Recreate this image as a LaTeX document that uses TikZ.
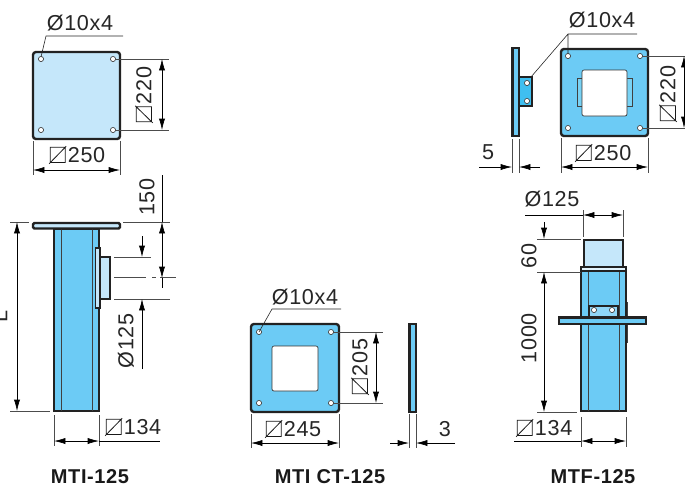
\documentclass[tikz,border=0pt]{standalone}
\usepackage{fontspec}
\setmainfont{Liberation Sans}[LetterSpace=3]
\usetikzlibrary{arrows.meta}
\definecolor{darkblue}{HTML}{6CCBF5}
\definecolor{lightblue}{HTML}{C5E7FA}
\definecolor{brightblue}{HTML}{3FBFF0}
\definecolor{outline}{HTML}{222222}
\newcommand{\sqd}{\tikz[baseline=0pt,x=1em,y=1em]{\draw[line width=.6pt,draw=black!90] (0.02,0) rectangle (0.72,0.7) (-0.03,-0.06) -- (0.76,0.75);}\kern1pt}
\tikzset{
  plate/.style={draw=outline, line width=1.8pt, rounded corners=2.2pt},
  part/.style={draw=outline, line width=1.8pt},
  cut/.style={draw=black!80, line width=0.5pt, fill=white, rounded corners=1.5pt},
  hole/.style={draw=black!75, line width=0.5pt, fill=white},
  inner/.style={draw=black!75, line width=0.6pt},
  dim/.style={draw=black, line width=0.5pt, {Latex[length=8.5pt,width=4.6pt]}-{Latex[length=8.5pt,width=4.6pt]}},
  dimend/.style={draw=black, line width=0.5pt, -{Latex[length=8.5pt,width=4.6pt]}},
  ext/.style={draw=black!70, line width=0.45pt},
  lead/.style={draw=black!85, line width=0.45pt},
  lbl/.style={font=\fontsize{16.2pt}{16.2pt}\selectfont, inner sep=0pt, text=black!85},
  vlbl/.style={lbl, rotate=90},
  title/.style={font=\fontsize{15pt}{15pt}\selectfont\bfseries, inner sep=0pt, text=black!90}
}
\begin{document}
\begin{tikzpicture}[x=0.75pt,y=-0.75pt]
    \useasboundingbox (0,0) rectangle (685,487);

    % MTI-125 top plate
    \draw[plate, fill=lightblue] (33,52) rectangle (120,139);
    \foreach \hx/\hy in {41/59, 113/59, 41/130, 113/130}
        \draw[hole] (\hx,\hy) circle (2.6);
    \draw[lead] (41,57) -- (46,36) -- (123,36);
    \node[lbl] (holesa) at (80,23) {Ø10x4};
    \draw[ext] (115,59) -- (169,59) (115,130) -- (169,130);
    \draw[dim] (162,59) -- (162,130);
    \node[vlbl] (platea) at (144,95) {\sqd 220};
    \draw[ext] (33,141) -- (33,175) (120,141) -- (120,175);
    \draw[dim] (33,170) -- (120,170);
    \node[lbl] (sidea) at (77,155) {\sqd 250};

    % MTI-125 tube
    \draw[part, fill=darkblue] (54,229) rectangle (99,411);
    \draw[inner] (61.5,229) -- (61.5,411) (92,229) -- (92,411);
    \draw[plate, rounded corners=1pt, fill=lightblue] (33,223) rectangle (120,228.5);
    \draw[part, fill=lightblue] (100,257) -- (110,257) -- (110,299) -- (100,299);
    \draw[part, line width=1pt, fill=lightblue] (95.5,248) rectangle (100,308);
    % L
    \draw[ext] (10,222) -- (29,222) (10,411) -- (50,411);
    \draw[dim] (17,222) -- (17,411);
    \node[vlbl] (lengtha) at (0,316) {L};
    % 150
    \draw[ext] (123,222) -- (170,222);
    \draw[ext] (114,277.5) -- (146,277.5) (152,277.5) -- (156,277.5) (160,277.5) -- (176,277.5);
    \draw[dim] (162,222) -- (162,278);
    \draw[draw=black, line width=0.5pt] (162,175) -- (162,222) (162,278) -- (162,288);
    \node[vlbl] (heighta) at (147,197) {150};
    % Ø125
    \draw[ext] (114,257) -- (151,257) (114,299) -- (170,299);
    \draw[dimend] (142,236) -- (142,257);
    \draw[dimend] (142,369) -- (142,299);
    \node[vlbl] (ducta) at (126,341) {Ø125};
    % 134
    \draw[ext] (54,415) -- (54,446) (99,415) -- (99,446);
    \draw[dim] (54,441) -- (99,441);
    \draw[draw=black, line width=0.5pt] (99,441) -- (160,441);
    \node[lbl] (tubea) at (133,427) {\sqd 134};
    \node[title] (titlea) at (90,477) {MTI-125};

    % MTI CT-125 plate
    \draw[plate, fill=darkblue] (251,324) rectangle (339,412);
    \draw[cut] (272,346) rectangle (318,391);
    \foreach \hx/\hy in {259/332, 331/332, 259/403, 331/403}
        \draw[hole] (\hx,\hy) circle (2.6);
    \draw[lead] (259,332) -- (272,309) -- (341,309);
    \node[lbl] (holesb) at (305,297) {Ø10x4};
    \draw[ext] (333,332) -- (383,332) (333,403) -- (383,403);
    \draw[dim] (376,332) -- (376,403);
    \node[vlbl] (plateb) at (360,367) {\sqd 205};
    \draw[ext] (251,414) -- (251,448) (339,414) -- (339,448);
    \draw[dim] (251,443) -- (339,443);
    \node[lbl] (sideb) at (293,429) {\sqd 245};
    % side view
    \draw[part, fill=darkblue] (409.5,324) rectangle (416,412);
    \draw[ext] (409,414) -- (409,448) (416,414) -- (416,448);
    \draw[dimend] (390,443) -- (409,443);
    \draw[dimend] (455,443) -- (416,443);
    \node[lbl] (thickb) at (445,429) {3};
    \node[title] (titleb) at (330,477) {MTI CT-125};

    % MTF-125 side view
    \draw[part, fill=darkblue] (512.5,48) rectangle (519,136);
    \draw[part, fill=brightblue] (519,77) rectangle (532,106);
    \foreach \hy in {83,101}
        \draw[hole] (527,\hy) circle (2.6);
    \draw[ext] (512,139) -- (512,173) (519,139) -- (519,173);
    \draw[dimend] (479,167) -- (512,167);
    \draw[dimend] (540,167) -- (519,167);
    \node[lbl] (thickc) at (488,152) {5};

    % MTF-125 plate
    \draw[plate, fill=darkblue] (561,49) rectangle (648,136);
    \draw[inner, fill=brightblue!70] (577,78) rectangle (632,106);
    \draw[cut] (582,70) rectangle (627,116);
    \foreach \hx/\hy in {568/56, 640/56, 568/128, 640/128}
        \draw[hole] (\hx,\hy) circle (2.6);
    \draw[lead] (531,77) -- (568,34) -- (637,34) (568,34) -- (568,54);
    \node[lbl] (holesc) at (602,20) {Ø10x4};
    \draw[ext] (642,56) -- (685,56) (642,128) -- (685,128);
    \draw[dim] (684,56) -- (684,128);
    \node[vlbl] (platec) at (668,94) {\sqd 220};
    \draw[ext] (561,138) -- (561,173) (648,138) -- (648,173);
    \draw[dim] (561,167) -- (648,167);
    \node[lbl] (sidec) at (603,153) {\sqd 250};

    % MTF-125 tube
    \draw[part, fill=lightblue] (584,267) -- (584,240) -- (623,240) -- (623,267);
    \draw[part, fill=darkblue] (581,271) rectangle (626,411);
    \draw[inner] (588,271) -- (588,411) (619,271) -- (619,411);
    \draw[part, line width=1pt, fill=lightblue!50] (581,267) rectangle (626,271);
    \draw[inner] (627,302) -- (627,317) (627,324) -- (627,343);
    \draw[part, fill=darkblue!60!lightblue] (589,306) rectangle (618,317);
    \foreach \hx in {594,612}
        \draw[hole] (\hx,310) circle (2.6);
    \draw[part, fill=darkblue] (559,317.5) rectangle (646,324);
    % Ø125
    \draw[ext] (583,210) -- (583,237) (623,210) -- (623,237);
    \draw[dim] (583,215) -- (623,215);
    \draw[draw=black, line width=0.5pt] (525,215) -- (583,215);
    \node[lbl] (ductc) at (552,199) {Ø125};
    % 60 and 1000
    \draw[ext] (537,239) -- (581,239) (537,272) -- (581,272) (537,412) -- (577,412);
    \draw[dimend] (544,222) -- (544,239);
    \draw[dim] (544,272) -- (544,412);
    \node[vlbl] (collarc) at (529,256) {60};
    \node[vlbl] (lengthc) at (529,338) {1000};
    % 134
    \draw[ext] (581,417) -- (581,447) (626,417) -- (626,447);
    \draw[dim] (581,441) -- (626,441);
    \draw[draw=black, line width=0.5pt] (514,441) -- (581,441);
    \node[lbl] (tubec) at (544,428) {\sqd 134};
    \node[title] (titlec) at (593,477) {MTF-125};
\end{tikzpicture}
\end{document}
